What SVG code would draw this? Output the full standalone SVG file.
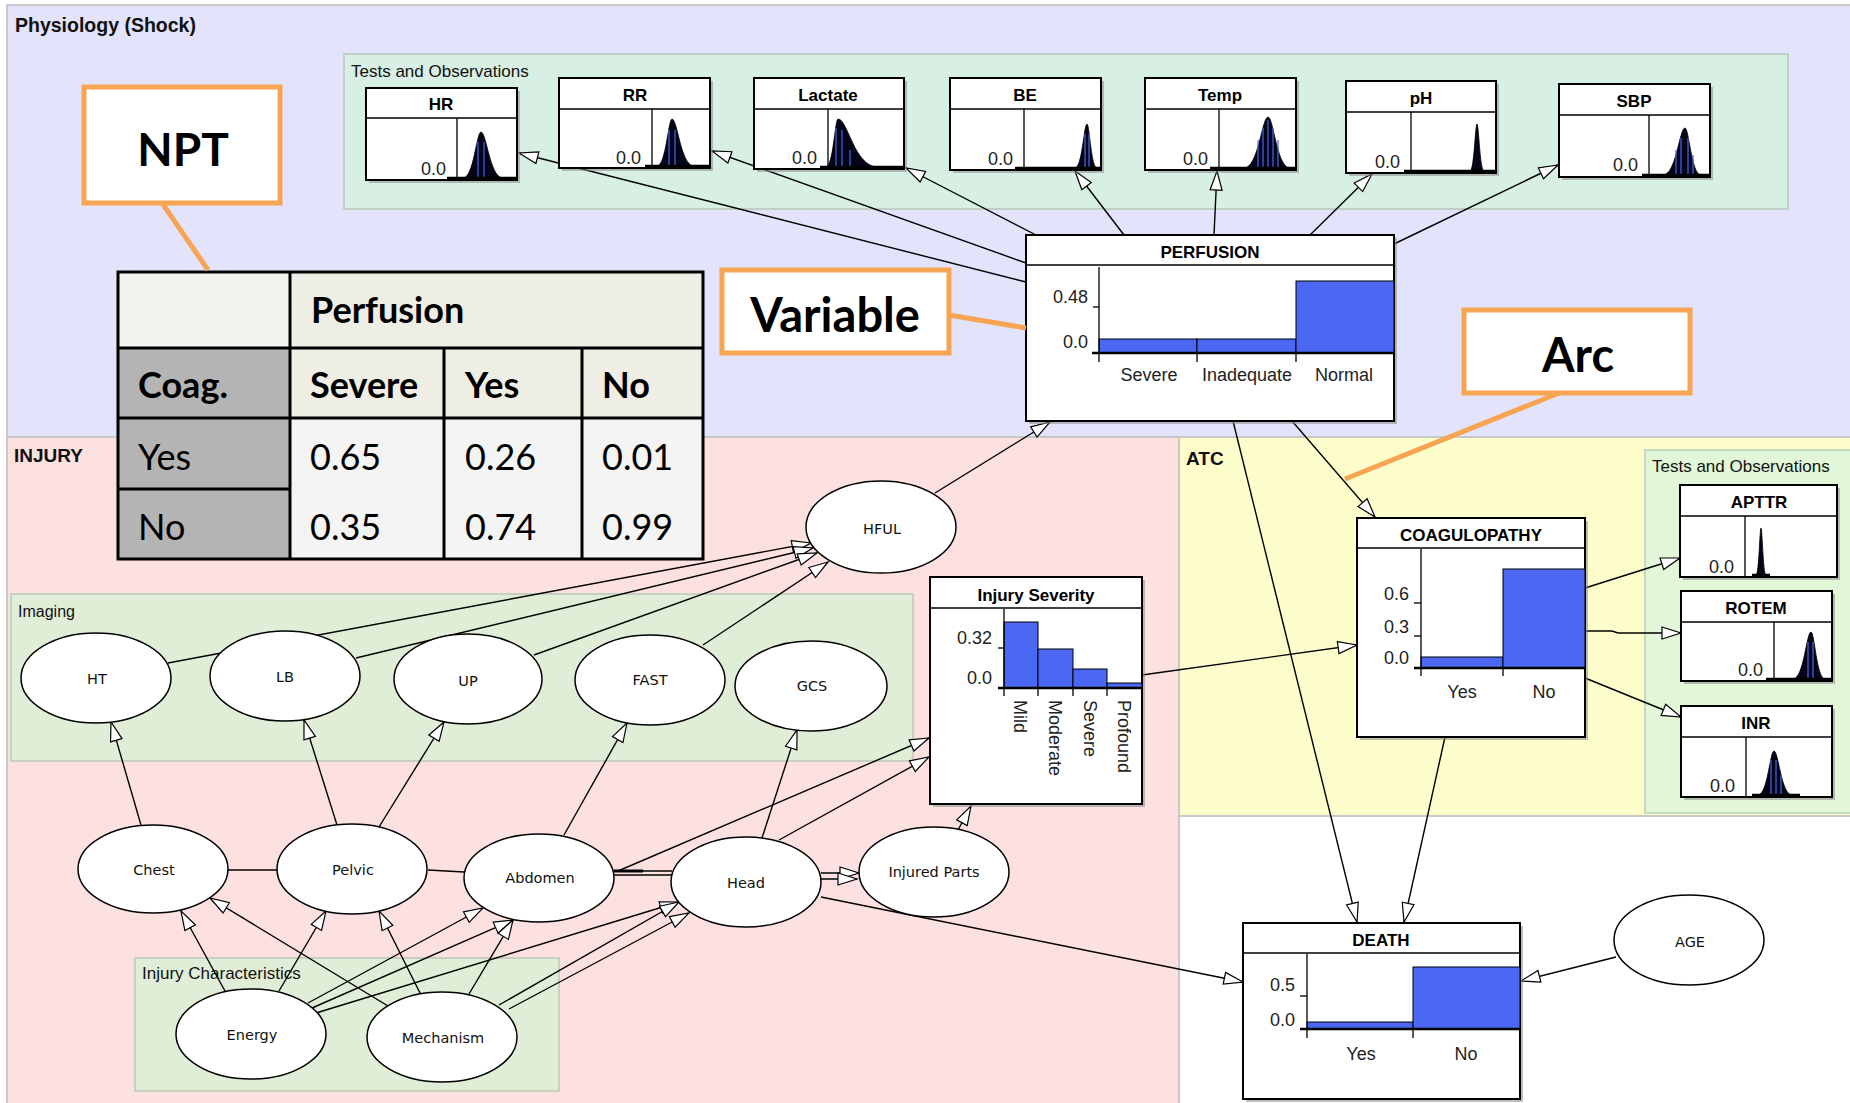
<svg xmlns="http://www.w3.org/2000/svg" width="1850" height="1103" viewBox="0 0 1850 1103">
<defs>
<style>
.lab{font-family:"Liberation Sans",Arial,sans-serif;font-size:17px;fill:#111}
.reg{font-family:"Liberation Sans",Arial,sans-serif;font-weight:bold;font-size:19px;fill:#111}
.title{font-family:"Liberation Sans",Arial,sans-serif;font-weight:bold;font-size:17px;text-anchor:middle;fill:#000}
.num{font-family:"Liberation Sans",Arial,sans-serif;font-size:18px;text-anchor:end;fill:#222}
.cat{font-family:"Liberation Sans",Arial,sans-serif;font-size:18px;text-anchor:middle;fill:#222}
.rot{font-family:"Liberation Sans",Arial,sans-serif;font-size:18px;fill:#222}
.ell{fill:#fff;stroke:#000;stroke-width:1.5}
.elt{font-family:"DejaVu Sans",sans-serif;font-size:14.5px;text-anchor:middle;fill:#111}
.box{fill:#fff;stroke:#000;stroke-width:2}
.shadow{fill:#888;opacity:.55}
.bar{fill:#4b68f5;stroke:#000;stroke-width:1}
.ax{stroke:#000;stroke-width:1.3;fill:none}
.base{stroke:#000;stroke-width:2.5}
.dist{fill:#05051a;stroke:#000;stroke-width:.8}
.stripe{stroke:#4a66e8;stroke-width:1.2;fill:none}
.conn line,.conn polyline{stroke:#000;stroke-width:1.4;fill:none}
.arr{marker-end:url(#ah)}
.co{fill:#fff;stroke:#f8a553;stroke-width:5}
.cl{stroke:#f8a553;stroke-width:5;fill:none}
.big{font-family:Lato,"Open Sans",sans-serif;font-weight:bold;font-size:46px;text-anchor:middle;fill:#000}
.tb{font-family:Lato,"Open Sans",sans-serif;font-weight:bold;font-size:36px;fill:#000}
.tr{font-family:Lato,"Open Sans",sans-serif;font-size:36px;fill:#000}
.tl{stroke:#000;stroke-width:3;fill:none}
</style>
<marker id="ah" markerWidth="22" markerHeight="15" refX="20" refY="7" orient="auto" markerUnits="userSpaceOnUse">
<path d="M1,1 L20,7 L1,13 Z" fill="#fff" stroke="#000" stroke-width="1.2"/>
</marker>
</defs>

<rect x="0" y="0" width="1850" height="1103" fill="#fff"/>

<g id="regions">
<rect x="7" y="5" width="1850" height="432" fill="#e3e3fb" stroke="#c8c8c8" stroke-width="2"/>
<rect x="7" y="437" width="1172" height="670" fill="#fde1e1" stroke="#c8c8c8" stroke-width="2"/>
<rect x="1179" y="437" width="680" height="379" fill="#fdfdcb" stroke="#c8c8c8" stroke-width="2"/>
<rect x="344" y="54" width="1444" height="155" fill="#d8efe3" stroke="#c0cfc6" stroke-width="2"/>
<rect x="1645" y="450" width="210" height="363" fill="#e1f7d8" stroke="#c6d8bf" stroke-width="2"/>
<rect x="11" y="594" width="902" height="167" fill="#e1eed7" stroke="#c8d0c0" stroke-width="2"/>
<rect x="135" y="958" width="424" height="133" fill="#e1eed7" stroke="#c8d0c0" stroke-width="2"/>
<text class="reg" x="15" y="32" style="font-size:19.5px">Physiology (Shock)</text>
<text class="reg" x="14" y="462">INJURY</text>
<text class="reg" x="1186" y="465">ATC</text>
<text class="lab" x="351" y="77">Tests and Observations</text>
<text class="lab" x="1652" y="472">Tests and Observations</text>
<text class="lab" x="18" y="617" style="font-size:16px">Imaging</text>
<text class="lab" x="142" y="979">Injury Characteristics</text>
</g>

<g id="connectors" class="conn">
<line class="arr" x1="1026" y1="282" x2="519" y2="153"/>
<line class="arr" x1="1026" y1="263" x2="712" y2="151"/>
<line class="arr" x1="1036" y1="235" x2="906" y2="168"/>
<line class="arr" x1="1124" y1="235" x2="1075" y2="171"/>
<line class="arr" x1="1214" y1="235" x2="1217" y2="171"/>
<line class="arr" x1="1310" y1="235" x2="1372" y2="174"/>
<line class="arr" x1="1394" y1="244" x2="1558" y2="165"/>
<line class="arr" x1="935" y1="493" x2="1050" y2="422"/>
<line class="arr" x1="168" y1="663" x2="811" y2="543"/>
<line class="arr" x1="356" y1="658" x2="813" y2="548"/>
<line class="arr" x1="534" y1="655" x2="817" y2="553"/>
<line class="arr" x1="703" y1="645" x2="828" y2="562"/>
<line class="arr" x1="141" y1="825" x2="111" y2="722"/>
<line class="arr" x1="337" y1="825" x2="304" y2="720"/>
<line class="arr" x1="379" y1="827" x2="444" y2="722"/>
<line class="arr" x1="564" y1="835" x2="627" y2="723"/>
<line class="arr" x1="762" y1="838" x2="797" y2="730"/>
<line class="arr" x1="618" y1="871" x2="929" y2="738"/>
<line class="arr" x1="779" y1="840" x2="929" y2="757"/>
<line class="arr" x1="958" y1="830" x2="971" y2="806"/>
<line class="arr" x1="1142" y1="675" x2="1357" y2="645"/>
<line class="arr" x1="1292" y1="421" x2="1375" y2="517"/>
<line class="arr" x1="1233" y1="421" x2="1357" y2="922"/>
<line class="arr" x1="1445" y1="737" x2="1404" y2="922"/>
<line class="arr" x1="1616" y1="957" x2="1521" y2="981"/>
<line class="arr" x1="821" y1="897" x2="1243" y2="982"/>
<line class="arr" x1="1585" y1="588" x2="1680" y2="558"/>
<polyline class="arr" points="1585,631 1612,631 1618,633 1681,633"/>
<line class="arr" x1="1585" y1="678" x2="1681" y2="717"/>
<line x1="228" y1="870" x2="277" y2="870"/>
<line x1="428" y1="870" x2="464" y2="872"/>
<line x1="614" y1="871" x2="672" y2="871"/>
<line x1="614" y1="875" x2="672" y2="875"/>
<line x1="614" y1="871" x2="643" y2="871" style="stroke-width:3"/>
<line class="arr" x1="821" y1="873" x2="859" y2="873"/>
<line class="arr" x1="821" y1="879" x2="857" y2="879"/>
<line class="arr" x1="225" y1="991" x2="181" y2="911"/>
<line class="arr" x1="279" y1="991" x2="326" y2="911"/>
<line class="arr" x1="388" y1="1006" x2="210" y2="898"/>
<line class="arr" x1="420" y1="993" x2="379" y2="911"/>
<line class="arr" x1="308" y1="1003" x2="483" y2="908"/>
<line class="arr" x1="312" y1="1008" x2="513" y2="920"/>
<line class="arr" x1="316" y1="1013" x2="679" y2="902"/>
<line class="arr" x1="469" y1="994" x2="513" y2="920"/>
<line class="arr" x1="499" y1="1005" x2="679" y2="902"/>
<line class="arr" x1="509" y1="1009" x2="689" y2="913"/>
</g>

<g id="node-hr">
<rect class="shadow" x="369" y="91" width="151" height="92"/>
<rect class="box" x="366" y="88" width="151" height="92"/>
<line class="ax" x1="366" y1="118" x2="517" y2="118"/>
<line class="ax" x1="457" y1="118" x2="457" y2="180"/>
<text class="title" x="441" y="110">HR</text>
<text class="num" x="446" y="175">0.0</text>
<path class="dist" d="M463,178 C473.8,178 476.5,132 481,132 C486.5,132 489.8,178 503,178Z"/>
<path class="stripe" d="M478,142V178 M484,142V178"/>
<line class="base" x1="447" y1="178" x2="517" y2="178"/>
</g>
<g id="node-rr">
<rect class="shadow" x="562" y="81" width="151" height="90"/>
<rect class="box" x="559" y="78" width="151" height="90"/>
<line class="ax" x1="559" y1="109" x2="710" y2="109"/>
<line class="ax" x1="652" y1="109" x2="652" y2="168"/>
<text class="title" x="635" y="101">RR</text>
<text class="num" x="641" y="164">0.0</text>
<path class="dist" d="M657,166 C666,166 668.25,119 672,119 C677.5,119 680.8,166 694,166Z"/>
<path class="stripe" d="M669,130V166 M675,130V166"/>
<line class="base" x1="645" y1="166" x2="710" y2="166"/>
</g>
<g id="node-lactate">
<rect class="shadow" x="757" y="81" width="150" height="91"/>
<rect class="box" x="754" y="78" width="150" height="91"/>
<line class="ax" x1="754" y1="109" x2="904" y2="109"/>
<line class="ax" x1="828" y1="109" x2="828" y2="169"/>
<text class="title" x="828" y="101">Lactate</text>
<text class="num" x="817" y="164">0.0</text>
<path class="dist" d="M826,167 C833.2,167 835,119 838,119 C848,119 854,167 878,167Z"/>
<path class="stripe" d="M836,128V167 M842,130V167 M850,150V167"/>
<line class="base" x1="820" y1="167" x2="904" y2="167"/>
</g>
<g id="node-be">
<rect class="shadow" x="953" y="81" width="151" height="92"/>
<rect class="box" x="950" y="78" width="151" height="92"/>
<line class="ax" x1="950" y1="109" x2="1101" y2="109"/>
<line class="ax" x1="1024" y1="109" x2="1024" y2="170"/>
<text class="title" x="1025" y="101">BE</text>
<text class="num" x="1013" y="165">0.0</text>
<path class="dist" d="M1075,168 C1082.2,168 1084,124 1087,124 C1089.5,124 1091,168 1097,168Z"/>
<path class="stripe" d="M1085,134V168 M1089,134V168"/>
<line class="base" x1="1015" y1="168" x2="1101" y2="168"/>
</g>
<g id="node-temp">
<rect class="shadow" x="1148" y="81" width="151" height="92"/>
<rect class="box" x="1145" y="78" width="151" height="92"/>
<line class="ax" x1="1145" y1="109" x2="1296" y2="109"/>
<line class="ax" x1="1219" y1="109" x2="1219" y2="170"/>
<text class="title" x="1220" y="101">Temp</text>
<text class="num" x="1208" y="165">0.0</text>
<path class="dist" d="M1244,168 C1258.4,168 1262,117 1268,117 C1273.5,117 1276.8,168 1290,168Z"/>
<path class="stripe" d="M1258,140V168 M1263,128V168 M1268,120V168 M1273,128V168 M1278,140V168"/>
<line class="base" x1="1210" y1="168" x2="1296" y2="168"/>
</g>
<g id="node-ph">
<rect class="shadow" x="1349" y="84" width="150" height="92"/>
<rect class="box" x="1346" y="81" width="150" height="92"/>
<line class="ax" x1="1346" y1="112" x2="1496" y2="112"/>
<line class="ax" x1="1411" y1="112" x2="1411" y2="173"/>
<text class="title" x="1421" y="104">pH</text>
<text class="num" x="1400" y="168">0.0</text>
<path class="dist" d="M1470,171 C1474.2,171 1475.25,124 1477,124 C1478.75,124 1479.8,171 1484,171Z"/>
<line class="base" x1="1404" y1="171" x2="1496" y2="171"/>
</g>
<g id="node-sbp">
<rect class="shadow" x="1562" y="87" width="151" height="93"/>
<rect class="box" x="1559" y="84" width="151" height="93"/>
<line class="ax" x1="1559" y1="115" x2="1710" y2="115"/>
<line class="ax" x1="1649" y1="115" x2="1649" y2="177"/>
<text class="title" x="1634" y="107">SBP</text>
<text class="num" x="1638" y="171">0.0</text>
<path class="dist" d="M1663,175 C1676.2,175 1679.5,128 1685,128 C1689,128 1691.4,175 1701,175Z"/>
<path class="stripe" d="M1676,150V175 M1681,138V175 M1688,138V175 M1693,155V175"/>
<line class="base" x1="1642" y1="175" x2="1710" y2="175"/>
</g>

<g id="node-perfusion">
<rect class="shadow" x="1029" y="238" width="368" height="186"/>
<rect class="box" x="1026" y="235" width="368" height="186"/>
<line class="ax" x1="1026" y1="265" x2="1394" y2="265"/>
<text class="title" x="1210" y="258">PERFUSION</text>
<rect class="bar" x="1099" y="339" width="98" height="14"/>
<rect class="bar" x="1197" y="339" width="99" height="14"/>
<rect class="bar" x="1296" y="281" width="98" height="72"/>
<line class="ax" x1="1099" y1="267" x2="1099" y2="362"/>
<line class="ax" x1="1197" y1="353" x2="1197" y2="362"/>
<line class="ax" x1="1296" y1="353" x2="1296" y2="362"/>
<line class="ax" x1="1093" y1="307" x2="1099" y2="307"/>
<line class="base" x1="1092" y1="353" x2="1394" y2="353"/>
<text class="num" x="1088" y="303">0.48</text>
<text class="num" x="1088" y="348">0.0</text>
<text class="cat" x="1149" y="381">Severe</text>
<text class="cat" x="1247" y="381">Inadequate</text>
<text class="cat" x="1344" y="381">Normal</text>
</g>

<g id="node-coagulopathy">
<rect class="shadow" x="1360" y="521" width="228" height="219"/>
<rect class="box" x="1357" y="518" width="228" height="219"/>
<line class="ax" x1="1357" y1="548" x2="1585" y2="548"/>
<text class="title" x="1471" y="541">COAGULOPATHY</text>
<rect class="bar" x="1421" y="657" width="82" height="11"/>
<rect class="bar" x="1503" y="569" width="82" height="99"/>
<line class="ax" x1="1421" y1="549" x2="1421" y2="676"/>
<line class="ax" x1="1503" y1="668" x2="1503" y2="676"/>
<line class="ax" x1="1414" y1="603" x2="1421" y2="603"/>
<line class="ax" x1="1414" y1="636" x2="1421" y2="636"/>
<line class="base" x1="1414" y1="668" x2="1585" y2="668"/>
<text class="num" x="1409" y="600">0.6</text>
<text class="num" x="1409" y="633">0.3</text>
<text class="num" x="1409" y="664">0.0</text>
<text class="cat" x="1462" y="698">Yes</text>
<text class="cat" x="1544" y="698">No</text>
</g>

<g id="node-apttr">
<rect class="shadow" x="1683" y="488" width="157" height="92"/>
<rect class="box" x="1680" y="485" width="157" height="92"/>
<line class="ax" x1="1680" y1="516" x2="1837" y2="516"/>
<line class="ax" x1="1745" y1="516" x2="1745" y2="577"/>
<text class="title" x="1759" y="508">APTTR</text>
<text class="num" x="1734" y="573">0.0</text>
<path class="dist" d="M1756,575 C1759,575 1759.75,528 1761,528 C1762.25,528 1763,575 1766,575Z"/>
<line class="base" x1="1752" y1="575" x2="1770" y2="575"/>
</g>
<g id="node-rotem">
<rect class="shadow" x="1684" y="594" width="151" height="90"/>
<rect class="box" x="1681" y="591" width="151" height="90"/>
<line class="ax" x1="1681" y1="622" x2="1832" y2="622"/>
<line class="ax" x1="1774" y1="622" x2="1774" y2="681"/>
<text class="title" x="1756" y="614">ROTEM</text>
<text class="num" x="1763" y="676">0.0</text>
<path class="dist" d="M1793,679 C1803.8,679 1806.5,632 1811,632 C1814.5,632 1816.6,679 1825,679Z"/>
<path class="stripe" d="M1808,642V679 M1813,642V679"/>
<line class="base" x1="1766" y1="679" x2="1832" y2="679"/>
</g>
<g id="node-inr">
<rect class="shadow" x="1684" y="709" width="151" height="91"/>
<rect class="box" x="1681" y="706" width="151" height="91"/>
<line class="ax" x1="1681" y1="737" x2="1832" y2="737"/>
<line class="ax" x1="1746" y1="737" x2="1746" y2="797"/>
<text class="title" x="1756" y="729">INR</text>
<text class="num" x="1735" y="792">0.0</text>
<path class="dist" d="M1758,795 C1767.6,795 1770,751 1774,751 C1778.5,751 1781.2,795 1792,795Z"/>
<path class="stripe" d="M1771,760V795 M1776,760V795 M1781,775V795"/>
<line class="base" x1="1752" y1="795" x2="1800" y2="795"/>
</g>

<g id="node-injury-severity">
<rect class="shadow" x="933" y="580" width="212" height="227"/>
<rect class="box" x="930" y="577" width="212" height="227"/>
<line class="ax" x1="930" y1="608" x2="1142" y2="608"/>
<text class="title" x="1036" y="601">Injury Severity</text>
<rect class="bar" x="1004" y="622" width="34" height="66"/>
<rect class="bar" x="1038" y="649" width="35" height="39"/>
<rect class="bar" x="1073" y="669" width="34" height="19"/>
<rect class="bar" x="1107" y="683" width="35" height="5"/>
<line class="ax" x1="1004" y1="609" x2="1004" y2="696"/>
<line class="ax" x1="1038" y1="688" x2="1038" y2="696"/>
<line class="ax" x1="1073" y1="688" x2="1073" y2="696"/>
<line class="ax" x1="1107" y1="688" x2="1107" y2="696"/>
<line class="ax" x1="998" y1="648" x2="1004" y2="648"/>
<line class="base" x1="998" y1="688" x2="1142" y2="688"/>
<text class="num" x="992" y="644">0.32</text>
<text class="num" x="992" y="684">0.0</text>
<text class="rot" transform="translate(1014,700) rotate(90)">Mild</text>
<text class="rot" transform="translate(1049,700) rotate(90)">Moderate</text>
<text class="rot" transform="translate(1084,700) rotate(90)">Severe</text>
<text class="rot" transform="translate(1118,700) rotate(90)">Profound</text>
</g>

<g id="node-death">
<rect class="shadow" x="1246" y="926" width="277" height="176"/>
<rect class="box" x="1243" y="923" width="277" height="176"/>
<line class="ax" x1="1243" y1="953" x2="1520" y2="953"/>
<text class="title" x="1381" y="946">DEATH</text>
<rect class="bar" x="1307" y="1022" width="106" height="7"/>
<rect class="bar" x="1413" y="967" width="107" height="62"/>
<line class="ax" x1="1307" y1="954" x2="1307" y2="1038"/>
<line class="ax" x1="1413" y1="1029" x2="1413" y2="1038"/>
<line class="ax" x1="1300" y1="996" x2="1307" y2="996"/>
<line class="base" x1="1300" y1="1029" x2="1520" y2="1029"/>
<text class="num" x="1295" y="991">0.5</text>
<text class="num" x="1295" y="1026">0.0</text>
<text class="cat" x="1361" y="1060">Yes</text>
<text class="cat" x="1466" y="1060">No</text>
</g>

<g id="node-hful"><ellipse class="ell" cx="881" cy="527" rx="75" ry="46"/><text class="elt" x="882" y="534">HFUL</text></g>
<g id="node-ht"><ellipse class="ell" cx="96" cy="678" rx="75" ry="45"/><text class="elt" x="97" y="684">HT</text></g>
<g id="node-lb"><ellipse class="ell" cx="285" cy="676" rx="75" ry="45"/><text class="elt" x="285" y="682">LB</text></g>
<g id="node-up"><ellipse class="ell" cx="468" cy="679" rx="74" ry="45"/><text class="elt" x="468" y="686">UP</text></g>
<g id="node-fast"><ellipse class="ell" cx="650" cy="680" rx="75" ry="45"/><text class="elt" x="650" y="685">FAST</text></g>
<g id="node-gcs"><ellipse class="ell" cx="811" cy="686" rx="76" ry="45"/><text class="elt" x="812" y="691">GCS</text></g>
<g id="node-chest"><ellipse class="ell" cx="153" cy="869" rx="75" ry="44"/><text class="elt" x="154" y="875">Chest</text></g>
<g id="node-pelvic"><ellipse class="ell" cx="352" cy="869" rx="75" ry="45"/><text class="elt" x="353" y="875">Pelvic</text></g>
<g id="node-abdomen"><ellipse class="ell" cx="539" cy="878" rx="75" ry="44"/><text class="elt" x="540" y="883">Abdomen</text></g>
<g id="node-head"><ellipse class="ell" cx="746" cy="882" rx="75" ry="45"/><text class="elt" x="746" y="888">Head</text></g>
<g id="node-injured-parts"><ellipse class="ell" cx="934" cy="872" rx="75" ry="45"/><text class="elt" x="934" y="877">Injured Parts</text></g>
<g id="node-energy"><ellipse class="ell" cx="251" cy="1034" rx="75" ry="45"/><text class="elt" x="252" y="1040">Energy</text></g>
<g id="node-mechanism"><ellipse class="ell" cx="442" cy="1037" rx="75" ry="45"/><text class="elt" x="443" y="1043">Mechanism</text></g>
<g id="node-age"><ellipse class="ell" cx="1689" cy="940" rx="75" ry="45"/><text class="elt" x="1690" y="947">AGE</text></g>

<g id="npt-table">
<rect x="118" y="272" width="172" height="76" fill="#f0f4ec"/>
<rect x="290" y="272" width="413" height="146" fill="#eeeee4"/>
<rect x="118" y="348" width="172" height="211" fill="#b4b4b4"/>
<rect x="290" y="418" width="413" height="141" fill="#f4f4f4"/>
<rect class="tl" x="118" y="272" width="585" height="287"/>
<line class="tl" x1="290" y1="272" x2="290" y2="559"/>
<line class="tl" x1="444" y1="348" x2="444" y2="559"/>
<line class="tl" x1="582" y1="348" x2="582" y2="559"/>
<line class="tl" x1="118" y1="348" x2="703" y2="348"/>
<line class="tl" x1="118" y1="418" x2="703" y2="418"/>
<line class="tl" x1="118" y1="489" x2="290" y2="489"/>
<text class="tb" x="311" y="323">Perfusion</text>
<text class="tb" x="138" y="398">Coag.</text>
<text class="tb" x="310" y="398">Severe</text>
<text class="tb" x="465" y="398">Yes</text>
<text class="tb" x="602" y="398">No</text>
<text class="tr" x="138" y="470">Yes</text>
<text class="tr" x="310" y="470">0.65</text>
<text class="tr" x="465" y="470">0.26</text>
<text class="tr" x="602" y="470">0.01</text>
<text class="tr" x="138" y="540">No</text>
<text class="tr" x="310" y="540">0.35</text>
<text class="tr" x="465" y="540">0.74</text>
<text class="tr" x="602" y="540">0.99</text>
</g>

<g id="callouts">
<line class="cl" x1="162" y1="203" x2="208" y2="270"/>
<rect class="co" x="84" y="87" width="196" height="116"/>
<text class="big" x="183" y="166">NPT</text>
<line class="cl" x1="949" y1="315" x2="1026" y2="328"/>
<rect class="co" x="722" y="270" width="227" height="83"/>
<text class="big" x="835" y="332" style="font-size:47px">Variable</text>
<line class="cl" x1="1574" y1="387" x2="1345" y2="479"/>
<rect class="co" x="1464" y="310" width="226" height="83"/>
<text class="big" x="1578" y="372" style="font-size:47px">Arc</text>
</g>
</svg>
